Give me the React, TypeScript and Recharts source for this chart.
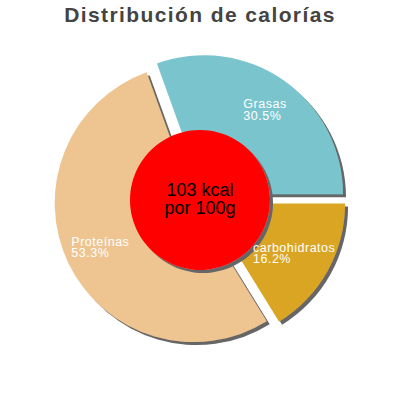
import { Cell, Pie, PieChart } from "recharts";

const title = "Distribución de calorías";
const categories = ["Grasas", "Proteínas", "carbohidratos"];
const percents = [30.5, 53.3, 16.2];
const sliceColors = ["#7AC5CD", "#EEC591", "#DAA520"];
const centerLines = ["103 kcal", "por 100g"];

const data = categories.map((name, i) => ({ name, value: percents[i] }));
const centerData = [{ name: "kcal", value: 1 }];

const FONT = "'Liberation Sans', Arial, sans-serif";
const RADIAN = Math.PI / 180;
const EXPLODE = 7;

// mid angle of each slice, laid out like recharts does (counter-clockwise from 3 o'clock)
const total = percents.reduce((a, b) => a + b, 0);
const midAngles = percents.map((v, i) => {
  const before = percents.slice(0, i).reduce((a, b) => a + b, 0);
  return ((before + v / 2) / total) * 360;
});

const explodeShift = (mid: number) => {
  const a = -mid * RADIAN;
  return { dx: EXPLODE * Math.cos(a), dy: EXPLODE * Math.sin(a) };
};

const renderSliceLabel = (props: any) => {
  const { cx, cy, midAngle, outerRadius, name, value } = props;
  const a = -midAngle * RADIAN;
  const r = outerRadius * 0.74 + EXPLODE;
  const x = cx + r * Math.cos(a);
  const y = cy + r * Math.sin(a);
  const lines = [name, `${value}%`];
  const w = Math.max(...lines.map((l) => l.length)) * 6.6;
  const left = x - w / 2;
  return (
    <text x={left} y={y - 2} fill="#ffffff" fontSize={12.5} letterSpacing={0.5} fontFamily={FONT}>
      <tspan x={left}>{lines[0]}</tspan>
      <tspan x={left} dy={11.5}>
        {lines[1]}
      </tspan>
    </text>
  );
};

const renderCenterLabel = (props: any) => {
  const { cx, cy } = props;
  return (
    <text x={cx} y={cy - 4} textAnchor="middle" fill="#000000" fontSize={18} fontFamily={FONT}>
      <tspan x={cx}>{centerLines[0]}</tspan>
      <tspan x={cx} dy={18}>
        {centerLines[1]}
      </tspan>
    </text>
  );
};

export default function App() {
  return (
    <div style={{ position: "absolute", left: 0, top: 0, width: 400, height: 400, background: "#fff" }}>
      <div
        style={{
          position: "absolute",
          left: 0,
          top: 3,
          width: 400,
          textAlign: "center",
          fontFamily: FONT,
          fontWeight: "bold",
          fontSize: 21,
          letterSpacing: 1.4,
          color: "#444444",
        }}
      >
        {title}
      </div>
      <PieChart width={400} height={400} margin={{ top: 0, right: 0, bottom: 0, left: 0 }}>
        <defs>
          <filter id="pieShadow" x="-20%" y="-20%" width="140%" height="140%">
            <feDropShadow dx={3} dy={3} stdDeviation={0} floodColor="#666666" floodOpacity={1} />
          </filter>
        </defs>
        <Pie
          data={data}
          dataKey="value"
          nameKey="name"
          cx={200}
          cy={200}
          outerRadius={139}
          startAngle={0}
          endAngle={360}
          label={renderSliceLabel}
          labelLine={false}
          isAnimationActive={false}
        >
          {data.map((d, i) => {
            const s = explodeShift(midAngles[i]);
            return (
              <Cell
                key={d.name}
                fill={sliceColors[i]}
                stroke="none"
                filter="url(#pieShadow)"
                transform={`translate(${s.dx}, ${s.dy})`}
              />
            );
          })}
        </Pie>
        <Pie
          data={centerData}
          dataKey="value"
          cx={200}
          cy={200}
          outerRadius={70}
          startAngle={0}
          endAngle={360}
          label={renderCenterLabel}
          labelLine={false}
          isAnimationActive={false}
        >
          <Cell fill="#FF0000" stroke="none" filter="url(#pieShadow)" />
        </Pie>
      </PieChart>
    </div>
  );
}
